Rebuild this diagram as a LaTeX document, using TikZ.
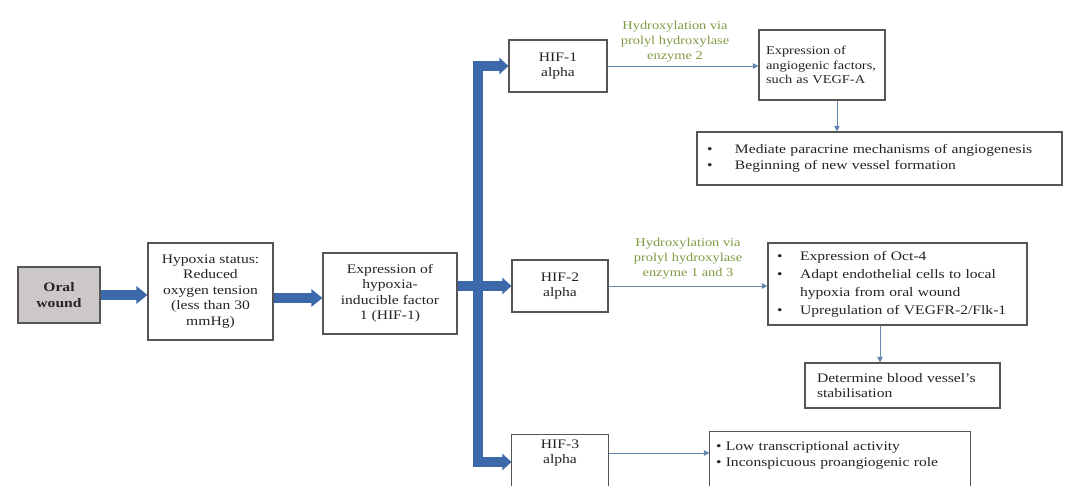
\documentclass[tikz,border=0pt]{standalone}
\usepackage{fontspec}
\setmainfont{Liberation Serif}[FakeStretch=1.2]
\usetikzlibrary{arrows.meta}
\definecolor{thickblue}{RGB}{60,105,170}
\definecolor{thinblue}{RGB}{100,135,175}
\definecolor{labgreen}{RGB}{125,155,65}
\definecolor{boxline}{RGB}{85,85,85}
\definecolor{woundfill}{RGB}{205,200,200}
\definecolor{txt}{RGB}{35,35,35}
\begin{document}
\begin{tikzpicture}[x=1pt,y=-1pt,
  box/.style={draw=boxline, line width=1.1pt, inner sep=0pt, text=txt,
    font=\fontsize{13}{15.5}\selectfont, align=center},
  listbox/.style={box, align=left},
  bigarrow/.style={draw=thickblue, line width=10pt, -{Triangle[width=17pt,length=11pt]}},
  brarrow/.style={draw=thickblue, line width=10pt, line join=miter,
    {Triangle[width=16pt,length=9pt]}-{Triangle[width=16pt,length=9pt]}},
  midarrow/.style={draw=thickblue, line width=10pt, -{Triangle[width=16pt,length=9pt]}},
  thinarrow/.style={draw=thinblue, line width=0.9pt, -{Triangle[width=5.5pt,length=5.5pt]}},
  lab/.style={text=labgreen, font=\fontsize{12}{15}\selectfont, align=center, inner sep=2pt},
]
\useasboundingbox (0,0) rectangle (1067,486);
\clip (0,0) rectangle (1067,486);

% left chain
\node[box, fill=woundfill, minimum width=82pt, minimum height=56pt,
  font=\fontsize{13}{15.5}\selectfont\bfseries] (oral) at (59,295) {Oral\\wound};
\node[box, minimum width=125pt, minimum height=97pt] (hyp) at (210.5,291.5)
  {Hypoxia status:\\Reduced\\oxygen tension\\(less than 30\\mmHg)};
\node[box, minimum width=134pt, minimum height=81pt] (expr) at (390,293.5)
  {Expression of\\hypoxia-\\inducible factor\\1 (HIF-1)};

% HIF alpha boxes
\node[box, minimum width=98pt, minimum height=52pt] (hif1) at (558,66) {HIF-1\\alpha};
\node[box, minimum width=96pt, minimum height=52pt] (hif2) at (560,286) {HIF-2\\alpha};
\node[box, draw=none, minimum width=96pt, minimum height=36pt] (hif3) at (560,453) {HIF-3\\alpha};
\draw[draw=boxline, line width=1.1pt] (hif3.north west) rectangle ([yshift=-30pt]hif3.south east);

% right boxes
\node[listbox, text width=112pt, inner xsep=7pt, minimum height=70pt,
  font=\fontsize{12}{14.5}\selectfont] (angio) at (822,65)
  {Expression of\\angiogenic factors,\\such as VEGF-A};
\node[listbox, text width=345pt, inner xsep=10pt, minimum height=53pt] (bul1) at (879.5,158.5)
  {\begin{tabular}{@{}p{28pt}@{}l@{}}
   \textbullet & Mediate paracrine mechanisms of angiogenesis\\
   \textbullet & Beginning of new vessel formation
   \end{tabular}};
\node[listbox, text width=241pt, inner xsep=9pt, minimum height=82pt] (bul2) at (897.5,284)
  {\fontsize{13}{18}\selectfont
   \begin{tabular}{@{}p{23pt}@{}l@{}}
   \textbullet & Expression of Oct-4\\
   \textbullet & Adapt endothelial cells to local\\
               & hypoxia from oral wound\\
   \textbullet & Upregulation of VEGFR-2/Flk-1
   \end{tabular}};
\node[listbox, text width=171pt, inner xsep=12pt, minimum height=45pt] (det) at (902.5,385.5)
  {Determine blood vessel's\\stabilisation};
\node[listbox, draw=none, text width=248pt, inner xsep=6pt, minimum height=47pt] (bul3) at (840,455.5)
  {\textbullet\ Low transcriptional activity\\
   \textbullet\ Inconspicuous proangiogenic role};
\draw[draw=boxline, line width=1.1pt] (bul3.north west) rectangle ([yshift=-30pt]bul3.south east);

% thick connectors
\coordinate (a2) at (0,298);
\coordinate (bar) at (477.5,0);
\coordinate (bc) at (477.5,462);
\draw[bigarrow] (oral.east) -- (hyp.west |- oral.east);
\draw[bigarrow] (hyp.east |- a2) -- (expr.west |- a2);
\draw[brarrow] (hif1.west) -- (hif1.west -| bar) -- (bc) -- (hif3.west |- bc);
\draw[midarrow] (expr.east |- hif2.west) -- (hif2.west);

% thin connectors
\coordinate (d1) at (837,0);
\coordinate (d2) at (880,0);
\draw[thinarrow] (hif1.east) -- (angio.west |- hif1.east)
  node[lab, midway, above, xshift=-8pt, yshift=1pt] {Hydroxylation via\\prolyl hydroxylase\\enzyme 2};
\draw[thinarrow] (angio.south -| d1) -- (bul1.north -| d1);
\draw[thinarrow] (hif2.east) -- (bul2.west |- hif2.east)
  node[lab, midway, above, yshift=4pt] {Hydroxylation via\\prolyl hydroxylase\\enzyme 1 and 3};
\draw[thinarrow] (bul2.south -| d2) -- (det.north -| d2);
\draw[thinarrow] (hif3.east) -- (bul3.west |- hif3.east);
\end{tikzpicture}
\end{document}
